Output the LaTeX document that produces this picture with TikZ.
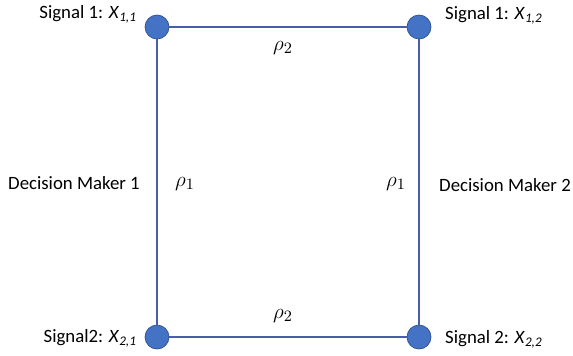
\documentclass[tikz,border=0pt]{standalone}
\usepackage{fontspec}
\setmainfont{Carlito}
\usepackage{amsmath}

\definecolor{nodeblue}{HTML}{4472C4}
\definecolor{rimblue}{HTML}{2F528F}
\definecolor{edgeblue}{HTML}{4A5EA8}

\begin{document}
\begin{tikzpicture}[x=0.02cm, y=-0.02cm, font=\fontsize{10.7}{12.8}\selectfont,
    agent/.style={circle, fill=nodeblue, draw=rimblue, thin, minimum size=0.48cm, inner sep=0pt},
    link/.style={edgeblue, line width=0.9pt},
    corr/.style={font=\fontsize{13}{15}\selectfont}]
  % Canvas
  \useasboundingbox (0,0) rectangle (573,355);

  % Signals
  \node[agent] (tl) at (157,27) {};
  \node[agent] (tr) at (419,27) {};
  \node[agent] (bl) at (157,337) {};
  \node[agent] (br) at (419,337) {};

  % Correlations
  \draw[link] (tl) -- (tr);
  \draw[link] (bl) -- (br);
  \draw[link] (tl) -- (bl);
  \draw[link] (tr) -- (br);
  \node[corr] (rtop) at (283,48) {$\rho_2$};
  \node[corr] (rbot) at (283,316) {$\rho_2$};
  \node[corr] (rleft) at (185,184) {$\rho_1$};
  \node[corr] (rright) at (396,184) {$\rho_1$};

  % Labels
  \node[anchor=east] (stl) at (143,14) {Signal 1: \textit{X}\textsubscript{\textit{1,1}}};
  \node[anchor=west] (str) at (439,15) {Signal 1: \textit{X}\textsubscript{\textit{1,2}}};
  \node[anchor=east] (sbl) at (143,338) {Signal2: \textit{X}\textsubscript{\textit{2,1}}};
  \node[anchor=west] (sbr) at (439,339) {Signal 2: \textit{X}\textsubscript{\textit{2,2}}};
  \node (dm1) at (74,183) {Decision Maker 1};
  \node (dm2) at (505,185) {Decision Maker 2};
\end{tikzpicture}
\end{document}
